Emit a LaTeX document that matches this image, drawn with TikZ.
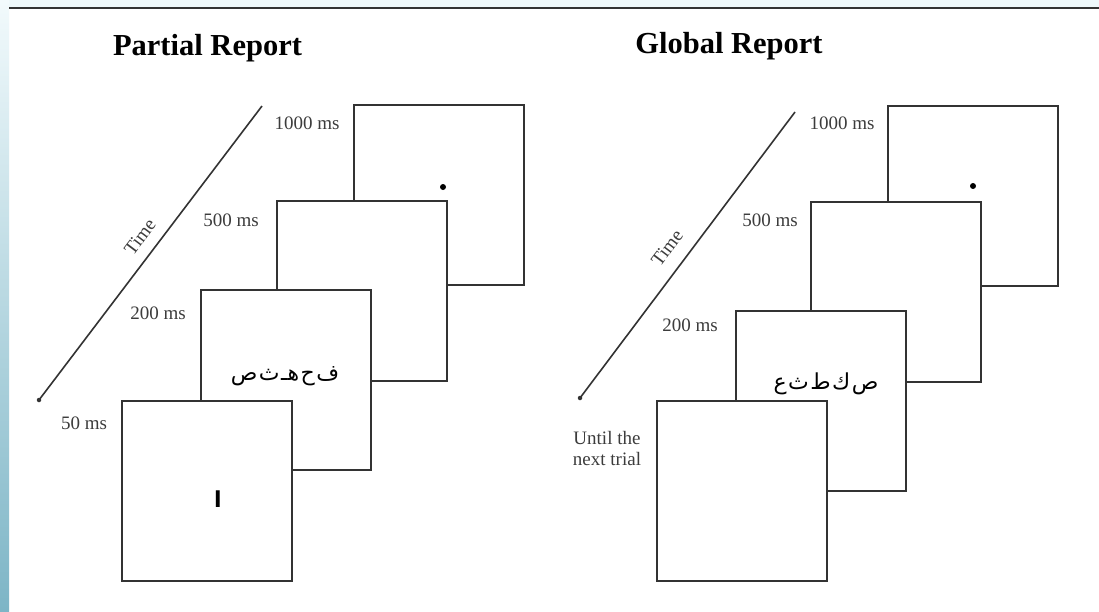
\documentclass[tikz,border=0pt]{standalone}
\usepackage{fontspec}
\setmainfont{Liberation Serif}
\newfontfamily\arabicfont[Script=Arabic]{DejaVu Sans}
\TeXXeTstate=1
\definecolor{frameline}{HTML}{333333}
\definecolor{labelgray}{HTML}{3C3C3C}
\definecolor{stripTop}{HTML}{F2FAFC}
\definecolor{stripBot}{HTML}{7DB5C6}
\definecolor{topband}{HTML}{EEF8FA}
% gap between separately set letters
\newcommand{\lgap}{\kern1.5pt}
\tikzset{
  screen/.style={draw=frameline, line width=2pt, fill=white,
    minimum width=170pt, minimum height=180pt, inner sep=0pt},
  title/.style={font=\fontsize{30.5}{36}\selectfont\bfseries, anchor=base, inner sep=0pt},
  durlabel/.style={font=\fontsize{19}{21}\selectfont, text=labelgray, inner sep=0pt},
  timeline/.style={draw=frameline, line width=1.6pt},
  timelabel/.style={font=\fontsize{19}{21}\selectfont, text=labelgray, rotate=53, inner sep=0pt},
  letters/.style={font=\arabicfont\fontsize{22}{26}\selectfont, inner sep=0pt},
  alef/.style={font=\arabicfont\bfseries\fontsize{22}{26}\selectfont, inner sep=0pt},
  fixdot/.style={circle, fill=black, minimum size=6pt, inner sep=0pt},
  enddot/.style={circle, fill=frameline, minimum size=4.5pt, inner sep=0pt}
}
\begin{document}
\begin{tikzpicture}[x=1pt, y=-1pt]
  % page background, top band, left gradient strip and rule
  \useasboundingbox (0,0) rectangle (1099,611);
  \fill[white] (0,0) rectangle (1099,611);
  \fill[topband] (0,0) rectangle (1099,8);
  \shade[top color=stripTop, bottom color=stripBot] (0,0) rectangle (9,611);
  \draw[frameline, line width=2pt] (9,8) -- (1099,8);

  % ---------- left panel ----------
  \node[title] (ptitle) at (207.5,55) {Partial Report};

  \coordinate (ltTop) at (262,106);
  \node[enddot] (ltEnd) at (39,400) {};
  \draw[timeline] (ltTop) -- (ltEnd.center);
  \node[timelabel] (ltime) at (140,237) {Time};

  \node[screen] (L1000) at (438.5,195) {};
  \node[fixdot] (Ldot) at (443,187) {};
  \node[screen] (L500) at (362,291) {};
  \node[screen] (L200) at (285.5,379.5) {};
  \node[letters] (Larr) at (285,376) {\beginR ف\lgap ح\lgap هـ\lgap ث\lgap ص\endR};
  \node[screen] (L50) at (206.5,491) {};
  \node[alef] (Lalef) at (218,499) {ا};

  \node[durlabel] (l1000) at (307,123) {1000 ms};
  \node[durlabel] (l500) at (231,220) {500 ms};
  \node[durlabel] (l200) at (158,313) {200 ms};
  \node[durlabel] (l50) at (84,423) {50 ms};

  % ---------- right panel ----------
  \node[title] (gtitle) at (729,53) {Global Report};

  \coordinate (rtTop) at (795,112);
  \node[enddot] (rtEnd) at (580,398) {};
  \draw[timeline] (rtTop) -- (rtEnd.center);
  \node[timelabel] (rtime) at (667,248) {Time};

  \node[screen] (R1000) at (972.5,195.5) {};
  \node[fixdot] (Rdot) at (973,186) {};
  \node[screen] (R500) at (896,292) {};
  \node[screen] (R200) at (821,400.5) {};
  \node[letters] (Rarr) at (826,384) {\beginR ص\lgap ك\lgap ط\lgap ث\lgap ع\endR};
  \node[screen] (Rend) at (741.5,490.5) {};

  \node[durlabel] (r1000) at (842,123) {1000 ms};
  \node[durlabel] (r500) at (770,220) {500 ms};
  \node[durlabel] (r200) at (690,325) {200 ms};
  \node[durlabel, align=center] (rnext) at (607,448) {Until the\\next trial};
\end{tikzpicture}
\end{document}
